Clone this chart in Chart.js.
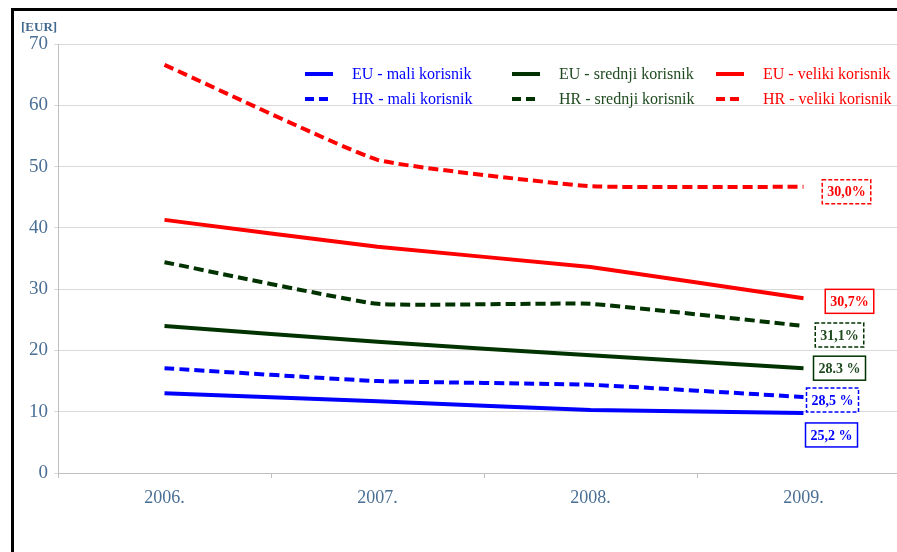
<!DOCTYPE html>
<html>
<head>
<meta charset="utf-8">
<script src="https://cdn.jsdelivr.net/npm/chart.js@4/dist/chart.umd.min.js"></script>
<style>
  html, body { margin: 0; padding: 0; background: #fff; overflow: hidden; width: 897px; height: 552px; }
  #frame { position: absolute; left: 11px; top: 8px; width: 1000px; height: 700px; border: 3px solid #000; box-sizing: border-box; }
  #wrap { position: absolute; left: 0; top: 0; width: 910px; height: 552px; }
  #eur { position: absolute; left: 21px; top: 19px; font: bold 13px "Liberation Serif", serif; color: #41698f; }
</style>
</head>
<body>
<div id="frame"></div>
<div id="wrap"><canvas id="c" width="910" height="552"></canvas></div>
<div id="eur">[EUR]</div>
<script>
// ---- data ----
const years = ['2006.', '2007.', '2008.', '2009.'];
const seriesNames = ['EU - mali korisnik', 'HR - mali korisnik', 'EU - srednji korisnik', 'HR - srednji korisnik', 'EU - veliki korisnik', 'HR - veliki korisnik'];
const euMali = [13.0, 11.7, 10.3, 9.8];
const hrMali = [17.1, 15.0, 14.4, 12.4];
const euSrednji = [24.0, 21.4, 19.2, 17.1];
const hrSrednji = [34.4, 27.6, 27.6, 24.0];
const euVeliki = [41.3, 36.9, 33.6, 28.5];
const hrVeliki = [66.6, 51.1, 46.8, 46.7];
const changeLabels = ['25,2 %', '28,5 %', '28.3 %', '31,1%', '30,7%', '30,0%'];
const yTicks = [0, 10, 20, 30, 40, 50, 60, 70];

// ---- styles ----
const BLUE = '#0000ff', GREEN = '#003300', RED = '#ff0000';
const colors = [BLUE, BLUE, GREEN, GREEN, RED, RED];
const textColors = [BLUE, BLUE, '#1f4a1f', '#1f4a1f', RED, RED];
const dashed = [false, true, false, true, false, true];
const values = [euMali, hrMali, euSrednji, hrSrednji, euVeliki, hrVeliki];
// label box offsets from last point (pixels)
const labelOffsets = [[28, 22], [29, 3], [36, 0], [36, 9], [46, 3], [43, 5]];

const datasets = values.map((v, i) => ({
  label: seriesNames[i],
  data: v,
  borderColor: colors[i],
  backgroundColor: colors[i],
  borderWidth: 4,
  borderDash: dashed[i] ? [10, 5] : [],
  borderCapStyle: 'butt',
  pointRadius: 0,
  tension: 0.12,
  fill: false
}));

const SERIF = '"Liberation Serif", "Times New Roman", serif';

const customLegend = {
  id: 'customLegend',
  afterDraw(chart) {
    const ctx = chart.ctx;
    const colX = [305, 512, 716];
    const rowY = [74, 99];
    ctx.save();
    chart.data.datasets.forEach((ds, i) => {
      const col = Math.floor(i / 2), row = i % 2;
      const x = colX[col], y = rowY[row];
      ctx.strokeStyle = ds.borderColor;
      ctx.lineWidth = 4;
      ctx.setLineDash(ds.borderDash.length ? [9, 5] : []);
      ctx.beginPath();
      ctx.moveTo(x, y);
      ctx.lineTo(x + 28, y);
      ctx.stroke();
      ctx.setLineDash([]);
      ctx.fillStyle = textColors[i];
      ctx.font = '16px ' + SERIF;
      ctx.textBaseline = 'middle';
      ctx.textAlign = 'left';
      ctx.fillText(ds.label, x + 47, y + 1);
    });
    ctx.restore();
  }
};

const changeBoxes = {
  id: 'changeBoxes',
  afterDatasetsDraw(chart) {
    const ctx = chart.ctx;
    ctx.save();
    chart.data.datasets.forEach((ds, i) => {
      const meta = chart.getDatasetMeta(i);
      const pt = meta.data[meta.data.length - 1];
      const cx = pt.x + labelOffsets[i][0];
      const cy = pt.y + labelOffsets[i][1];
      ctx.font = 'bold 14px ' + SERIF;
      const w = ctx.measureText(changeLabels[i]).width + 10;
      const h = 24;
      ctx.fillStyle = '#fff';
      ctx.fillRect(cx - w / 2, cy - h / 2, w, h);
      ctx.strokeStyle = colors[i];
      ctx.lineWidth = 1.5;
      ctx.setLineDash(dashed[i] ? [4, 2] : []);
      ctx.strokeRect(cx - w / 2, cy - h / 2, w, h);
      ctx.setLineDash([]);
      ctx.fillStyle = textColors[i];
      ctx.textAlign = 'center';
      ctx.textBaseline = 'middle';
      ctx.fillText(changeLabels[i], cx, cy + 1);
    });
    ctx.restore();
  }
};

new Chart(document.getElementById('c'), {
  type: 'line',
  data: { labels: years, datasets: datasets },
  options: {
    responsive: false,
    animation: false,
    layout: { padding: { top: 44, left: 0, right: 0, bottom: 0 } },
    plugins: { legend: { display: false }, tooltip: { enabled: false } },
    scales: {
      x: {
        offset: true,
        grid: { display: true, offset: true, drawOnChartArea: false, color: '#bfbfbf', tickLength: 5 },
        border: { display: true, color: '#bfbfbf', width: 1 },
        ticks: { color: '#4a6f94', font: { family: SERIF, size: 18 }, padding: 9 },
        afterFit(s) { s.height = 79; }
      },
      y: {
        min: 0, max: 70,
        afterBuildTicks(s) { s.ticks = yTicks.map(v => ({ value: v })); },
        grid: { color: '#d9d9d9', lineWidth: 1, tickLength: 4 },
        border: { display: true, color: '#bfbfbf', width: 1 },
        ticks: { color: '#4a6f94', font: { family: SERIF, size: 19 }, padding: 6 },
        afterFit(s) { s.width = 58; }
      }
    }
  },
  plugins: [customLegend, changeBoxes]
});
</script>
</body>
</html>
